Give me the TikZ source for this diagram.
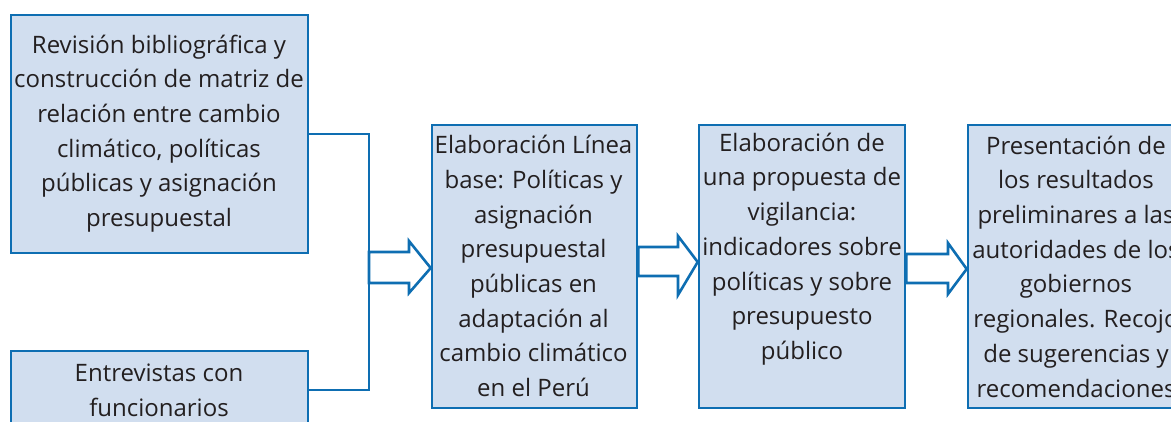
\documentclass[tikz,border=0pt]{standalone}
\usepackage{fontspec}
\setmainfont{Open Sans}[FakeStretch=1.0]
\usetikzlibrary{calc}
\definecolor{boxfill}{RGB}{209,222,239}
\definecolor{boxline}{RGB}{14,110,178}
\definecolor{txtcol}{RGB}{35,31,32}
\tikzset{
  box/.style={draw=boxline, fill=boxfill, line width=2.6pt, inner sep=0pt},
  txt/.style={align=center, text=txtcol, font=\fontsize{24}{34.7}\selectfont, inner sep=0pt},
  link/.style={draw=boxline, line width=2.6pt},
  blockarrow/.style={draw=boxline, fill=white, line width=2.6pt, line join=miter}
}
\begin{document}
\begin{tikzpicture}[x=1pt,y=-1pt]
\useasboundingbox (0,0) rectangle (1171,421);
% boxes
\node[box, minimum width=297pt, minimum height=238pt] (b1) at (159.5,134) {};
\node[box, minimum width=297pt, minimum height=78pt] (b2) at (159.5,390) {};
\node[box, minimum width=205pt, minimum height=283pt] (b3) at (534.5,266.5) {};
\node[box, minimum width=206pt, minimum height=283pt] (b4) at (802,266.5) {};
\node[box, minimum width=216pt, minimum height=283pt] (b5) at (1076,266.5) {};
% texts
\node[txt] (t1) at (159,133.5) {Revisión bibliográfica y\\construcción de matriz de\\relación entre cambio\\climático, políticas\\públicas y asignación\\presupuestal};
\node[txt] (t2) at (159,390) {Entrevistas con\\funcionarios};
\node[txt] (t3) at (533.5,266) {Elaboración Línea\\base: Políticas y\\asignación\\presupuestal\\públicas en\\adaptación al\\cambio climático\\en el Perú};
\node[txt] (t4) at (802,249) {Elaboración de\\una propuesta de\\vigilancia:\\indicadores sobre\\políticas y sobre\\presupuesto\\público};
\node[txt] (t5) at (1076,266.5) {Presentación de\\los resultados\\preliminares a las\\autoridades de los\\gobiernos\\regionales. Recojo\\de sugerencias y\\recomendaciones};
% joining connector
\coordinate (j) at (369,268);
\draw[link] (b1.east) -| (j) |- (b2.east);
% block arrows
\draw[blockarrow] (j |- 0,252) -- (409,252) -- (409,241) -- (b3.west |- 0,268) -- (409,293) -- (409,283) -- (j |- 0,283) -- cycle;
\draw[blockarrow] (b3.east |- 0,247) -- (678,247) -- (678,236) -- (b4.west |- 0,262) -- (678,295) -- (678,276) -- (b3.east |- 0,276) -- cycle;
\draw[blockarrow] (b4.east |- 0,254) -- (948,254) -- (948,243) -- (b5.west |- 0,269) -- (948,294) -- (948,283) -- (b4.east |- 0,283) -- cycle;
\end{tikzpicture}
\end{document}
